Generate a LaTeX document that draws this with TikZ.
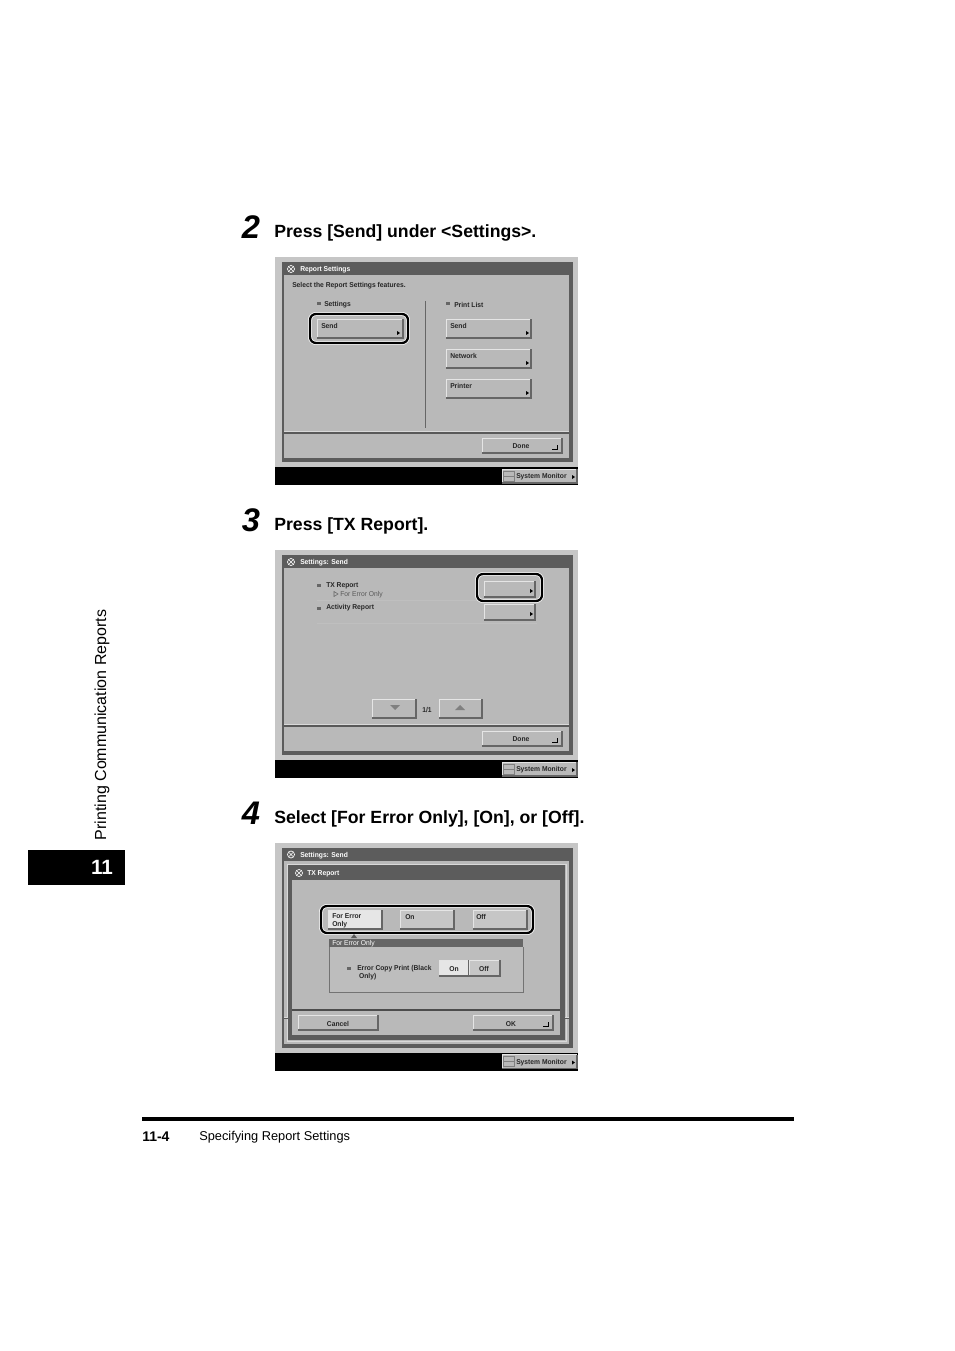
\documentclass[tikz,border=0pt]{standalone}
\usepackage{fontspec}
\setmainfont{Liberation Sans}
\usepackage{xcolor}
\definecolor{uibase}{HTML}{B9B9B9}
\definecolor{uiedge}{HTML}{C6C6C6}
\definecolor{uidark}{HTML}{5C5C5C}
\definecolor{uilight}{HTML}{E6E6E6}
\tikzset{
  uitext/.style={anchor=west,inner sep=0pt,yshift=-0.6pt,font=\fontsize{5.3}{6}\selectfont\bfseries,text=black!85,xscale=0.95},
  uimid/.style={uitext,anchor=center},
  uithin/.style={uitext,font=\fontsize{5.3}{6}\selectfont,text=black!65},
  steptext/.style={anchor=west,inner sep=0pt,yshift=-1.2pt,font=\fontsize{13.25}{15}\selectfont\bfseries},
  stepnum/.style={anchor=center,inner sep=0pt,font=\fontsize{24.5}{26}\selectfont\bfseries\itshape},
  foottext/.style={anchor=west,inner sep=0pt,font=\fontsize{9.6}{11}\selectfont},
  ringbox/.style={rounded corners=4.5pt,line width=1.7pt,draw=black,preaction={draw=white,line width=2.9pt}}
}
% boton: x0 y0 x1 y1 relleno
\newcommand{\uibtn}[5]{
  \fill[#5] (#1,#2) rectangle (#3,#4);
  \draw[white!90!black,line width=0.7pt] (#1,#4) -- (#1,#2) -- (#3,#2);
  \draw[black!60,line width=0.9pt] (#1,#4) -- (#3,#4) -- (#3,#2);
}
% flecha del boton
\newcommand{\uitip}[2]{\fill[black] (#1,#2-2) -- (#1+3,#2) -- (#1,#2+2) -- cycle;}
% flecha de retorno
\newcommand{\uiret}[2]{\draw[black,line width=0.7pt] (#1+5,#2-4) -- (#1+5,#2) -- (#1,#2);}
\newcommand{\uibullet}[2]{\fill[black!60] (#1-2,#2-1.5) rectangle (#1+2,#2+1.5);}
\newcommand{\uiicon}[2]{\draw[white,line width=0.5pt] (#1,#2) circle (3.5);
  \draw[white,line width=0.5pt] (#1-2,#2-2) -- (#1+2,#2+2) (#1-2,#2+2) -- (#1+2,#2-2);}
% pantalla base
\newcommand{\uiscreen}[2]{
  \begin{scope}[shift={(0,#1)}]
    \fill[uiedge] (275,257) rectangle (578,467);
    \fill[black] (275,467) rectangle (578,485);
    \fill[uidark] (282,262) rectangle (573,462);
    \fill[uibase] (284,275) rectangle (569,458);
    \draw[white!85!black,line width=0.5pt] (284,431.7) -- (569,431.7);
    \draw[black!65,line width=0.8pt] (284,433) -- (569,433);
    \uiicon{291}{269}
    \node[uitext,text=white] (title#2) at (300,269) {\ifnum#2=1 Report Settings\else Settings: Send\fi};
    % System Monitor
    \uibtn{502}{469}{577}{483}{uibase}
    \draw[black!50,line width=0.3pt] (503,471) rectangle (514,481) (503,476) -- (514,476);
    \node[uitext] (monitor#2) at (516,476) {System Monitor};
    \uitip{572}{477}
  \end{scope}
}
\begin{document}
\begin{tikzpicture}[x=0.75pt,y=-0.75pt]
  \useasboundingbox (0,0) rectangle (954,1351);
  \fill[white] (0,0) rectangle (954,1351);

  % Margen
  \node[foottext,rotate=90,anchor=center,font=\fontsize{12}{14}\selectfont] (sidetext) at (102,725) {Printing Communication Reports};
  \fill[black] (28,850) rectangle (125,885);
  \node[anchor=center,inner sep=0pt,text=white,font=\fontsize{15.5}{18}\selectfont\bfseries] (chapter) at (102,867) {11};

  % Titulos de pasos
  \node[stepnum] (numa) at (251,227) {2};
  \node[steptext] (stepa) at (274,231) {Press [Send] under <Settings>.};
  \node[stepnum] (numb) at (251,520) {3};
  \node[steptext] (stepb) at (274,524) {Press [TX Report].};
  \node[stepnum] (numc) at (251,813) {4};
  \node[steptext] (stepc) at (274,817) {Select [For Error Only], [On], or [Off].};

  % Pantalla 1
  \uiscreen{0}{1}
  \node[uitext] (selecttext) at (292,285) {Select the Report Settings features.};
  \uibullet{319}{304}
  \node[uitext] (settingstext) at (324,304) {Settings};
  \uibullet{448}{304}
  \node[uitext] (printtext) at (454,304) {Print List};
  \draw[black!60,line width=0.6pt] (425,301) -- (425,428);
  \uibtn{317}{319}{403}{338}{uibase}
  \node[uitext] (sendleft) at (321,325) {Send};
  \uitip{397}{333}
  \draw[ringbox] (310,314) rectangle (408,343);
  \uibtn{446}{319}{531}{338}{uibase}
  \node[uitext] (sendright) at (450,325) {Send};
  \uitip{526}{333}
  \uibtn{446}{349}{531}{368}{uibase}
  \node[uitext] (networkright) at (450,355) {Network};
  \uitip{526}{363}
  \uibtn{446}{379}{531}{398}{uibase}
  \node[uitext] (printerright) at (450,385) {Printer};
  \uitip{526}{393}
  \uibtn{482}{438}{562}{453}{uibase}
  \node[uimid] (donea) at (521,445) {Done};
  \uiret{552}{449}

  % Pantalla 2
  \uiscreen{293}{2}
  \uibullet{319}{585}
  \node[uitext] (txtext) at (326,585) {TX Report};
  \draw[black!60,line width=0.4pt] (334,591.5) -- (338,594) -- (334,596.5) -- cycle;
  \node[uithin] (errortext) at (340,594) {For Error Only};
  \draw[white!75!black,line width=0.6pt] (317,600) -- (537,600) (317,623) -- (537,623);
  \uibullet{319}{608}
  \node[uitext] (activitytext) at (326,607) {Activity Report};
  \uibtn{484}{581}{535}{597}{uibase}
  \uitip{530}{591}
  \draw[ringbox] (477,574) rectangle (542,601);
  \uibtn{484}{604}{535}{620}{uibase}
  \uitip{530}{614}
  \uibtn{372}{699}{416}{718}{uibase}
  \fill[black!50] (390,705) -- (400,705) -- (395,710) -- cycle;
  \node[uimid] (pagetext) at (427,709) {1/1};
  \uibtn{439}{699}{482}{718}{uibase}
  \fill[black!50] (455,710) -- (465,710) -- (460,705) -- cycle;
  \uibtn{482}{731}{562}{746}{uibase}
  \node[uimid] (doneb) at (521,738) {Done};
  \uiret{552}{742}

  % Pantalla 3
  \uiscreen{585.5}{3}
  \draw[white!85!black,line width=0.5pt] (287,864) rectangle (566,1041);
  \fill[uidark] (288,865) rectangle (565,1040);
  \fill[uibase] (292,880) rectangle (560,1035);
  \uiicon{299}{873}
  \node[uitext,text=white] (dialogtitle) at (307,873) {TX Report};
  \draw[black!70,line width=0.8pt] (292,1010) -- (560,1010);
  \draw[black!65,line width=0.5pt] (284,1018) -- (288,1018) (565,1018) -- (569,1018);
  \uibtn{328}{910}{382}{929}{uilight}
  \node[uitext,align=left] (erroronly) at (332,920) {For Error\\Only};
  \uibtn{400}{910}{454}{929}{uiedge}
  \node[uitext] (onbtn) at (405,916) {On};
  \uibtn{473}{910}{527}{929}{uiedge}
  \node[uitext] (offbtn) at (476,916) {Off};
  \draw[ringbox] (321,906) rectangle (533,933);
  \fill[black!65] (351,938) -- (357,938) -- (354,934) -- cycle;
  % Panel For Error Only
  \fill[uibase!70!uiedge] (329,939) rectangle (523,992);
  \fill[black!60] (329,939) rectangle (523,947);
  \draw[black!55,line width=0.6pt] (329,947) -- (329,992) -- (523,992) -- (523,947);
  \node[uithin,text=white] (paneltitle) at (332,943) {For Error Only};
  \uibullet{349}{968}
  \node[uitext,align=left] (copytext) at (357,971.5) {Error Copy Print (Black\\\ Only)};
  \uibtn{439}{960}{469}{976}{uilight}
  \node[uimid] (panelon) at (454,968) {On};
  \uibtn{469}{960}{500}{976}{uiedge}
  \node[uimid] (paneloff) at (484,968) {Off};
  \uibtn{298}{1015}{378}{1030}{uibase}
  \node[uimid] (cancelbtn) at (338,1023) {Cancel};
  \uibtn{473}{1015}{553}{1030}{uibase}
  \node[uimid] (okbtn) at (511,1023) {OK};
  \uiret{543}{1026}

  % Pie
  \fill[black] (142,1117) rectangle (794,1121);
  \node[foottext,font=\fontsize{10.5}{12}\selectfont\bfseries] (pagenum) at (142,1137) {11-4};
  \node[foottext] (foottitle) at (199,1137) {Specifying Report Settings};
\end{tikzpicture}
\end{document}
